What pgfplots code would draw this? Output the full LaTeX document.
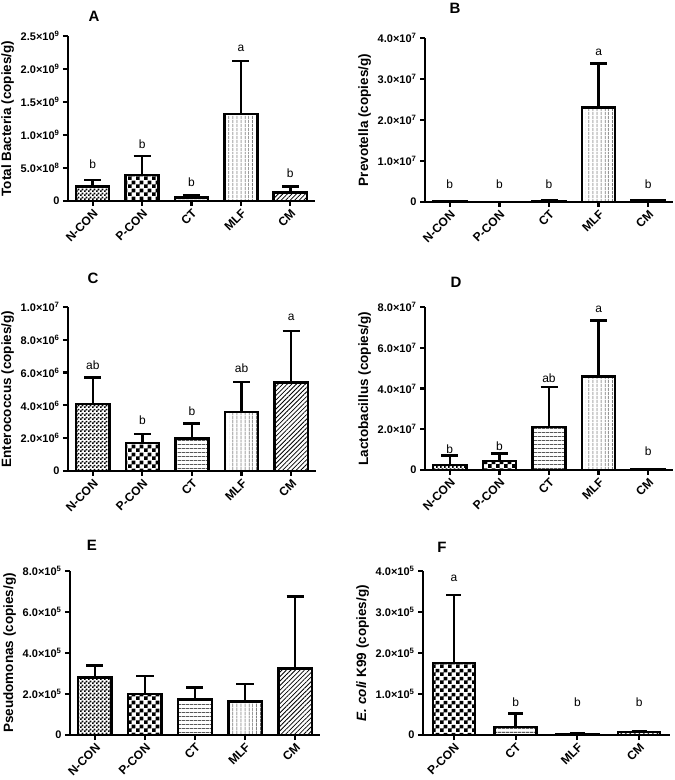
\documentclass[border=0pt]{standalone}
\usepackage{fontspec}
\setmainfont{Liberation Sans}
\usepackage{pgfplots}
\pgfplotsset{compat=1.18}
\usetikzlibrary{patterns,patterns.meta}

\pgfdeclarepatternformonly{bigcheck}{\pgfqpoint{0pt}{0pt}}{\pgfqpoint{8pt}{8pt}}{\pgfqpoint{8pt}{8pt}}{%
 \pgfpathrectangle{\pgfqpoint{0pt}{0pt}}{\pgfqpoint{4pt}{4pt}}%
 \pgfpathrectangle{\pgfqpoint{4pt}{4pt}}{\pgfqpoint{4pt}{4pt}}%
 \pgfusepath{fill}}
\pgfdeclarepatternformonly{smallcheck}{\pgfqpoint{0pt}{0pt}}{\pgfqpoint{4pt}{4pt}}{\pgfqpoint{4pt}{4pt}}{%
 \pgfpathrectangle{\pgfqpoint{0pt}{0pt}}{\pgfqpoint{2pt}{2pt}}%
 \pgfpathrectangle{\pgfqpoint{2pt}{2pt}}{\pgfqpoint{2pt}{2pt}}%
 \pgfusepath{fill}}

\newcommand{\ex}[2]{\mbox{#1×10\textsuperscript{#2}}}
\newcommand{\tickfont}{\bfseries\fontsize{11}{13}\selectfont}
\newcommand{\letfont}{\fontsize{12}{14}\selectfont}
\newcommand{\titfont}{\bfseries\fontsize{15}{18}\selectfont}

\pgfplotsset{
 panel/.style={
  scale only axis, clip=false,
  axis lines=left, axis line style={-, line width=2.5pt},
  xmin=-0.5, xmax=4.5, ymin=0,
  xtick={0,...,4}, xticklabels={N-CON,P-CON,CT,MLF,CM},
  tick align=outside, major tick length=5pt,
  tick style={line width=2.2pt, black},
  x tick label style={rotate=45, anchor=north east, font=\bfseries\fontsize{12}{14}\selectfont, inner sep=1.5pt},
  y tick label style={font=\tickfont},
  ylabel style={font=\bfseries\fontsize{13.5}{16}\selectfont},
  scaled y ticks=false,
  enlargelimits=false,
 },
 bars/.style={ybar, bar width=0.67, bar shift=0pt, draw=black, line width=2.5pt,
  error bars/.cd, y dir=plus, y explicit,
  error bar style={line width=2.5pt, black},
  error mark options={rotate=90, line width=2.5pt, mark size=8.5pt, black}},
 fbars/.style={ybar, bar width=0.68, bar shift=0pt, draw=black, line width=2.5pt,
  error bars/.cd, y dir=plus, y explicit,
  error bar style={line width=2.5pt, black},
  error mark options={rotate=90, line width=2.5pt, mark size=7.5pt, black}},
}
\tikzset{
 pNCON/.style={pattern=smallcheck},
 pPCON/.style={pattern=bigcheck},
 pCT/.style={pattern={Lines[angle=0, distance=4pt, line width=0.8pt]}},
 pMLF/.style={pattern={Lines[angle=90, distance=4pt, line width=0.8pt]}},
 pCM/.style={pattern={Lines[angle=45, distance=3.2pt, line width=0.8pt]}},
}

\begin{document}
\begin{tikzpicture}
\useasboundingbox (0,0) rectangle (675pt,780pt);

% ---------- A ----------
\begin{axis}[panel, at={(68pt,579pt)}, anchor=south west, width=247pt, height=165pt,
  ymax=2.5e9, ytick={0,5e8,1e9,1.5e9,2e9,2.5e9},
  yticklabels={0,\ex{5.0}{8},\ex{1.0}{9},\ex{1.5}{9},\ex{2.0}{9},\ex{2.5}{9}},
  ylabel={Total Bacteria (copies/g)}]
\addplot[pNCON, bars] coordinates {(0,2.2e8) +- (0,1.0e8)};
\addplot[pPCON, bars] coordinates {(1,3.94e8) +- (0,2.86e8)};
\addplot[pCT, bars] coordinates {(2,0.56e8) +- (0,0.24e8)};
\addplot[pMLF, bars] coordinates {(3,1.32e9) +- (0,0.80e9)};
\addplot[pCM, bars] coordinates {(4,1.26e8) +- (0,0.91e8)};
\node[font=\letfont] at (axis cs:0,0.56e9) {b};
\node[font=\letfont] at (axis cs:1,0.864e9) {b};
\node[font=\letfont] at (axis cs:2,0.292e9) {b};
\node[font=\letfont] at (axis cs:3,2.31e9) {a};
\node[font=\letfont] at (axis cs:4,0.42e9) {b};
\end{axis}

% ---------- B ----------
\begin{axis}[panel, at={(425pt,578pt)}, anchor=south west, width=248pt, height=164pt,
  ymax=4e7, ytick={0,1e7,2e7,3e7,4e7},
  yticklabels={0,\ex{1.0}{7},\ex{2.0}{7},\ex{3.0}{7},\ex{4.0}{7}},
  ylabel={Prevotella (copies/g)}]
\addplot[pNCON, bars] coordinates {(0,1.5e5) +- (0,1.0e5)};
\addplot[pPCON, bars] coordinates {(1,0.2e5) +- (0,0.1e5)};
\addplot[pCT, bars] coordinates {(2,2.5e5) +- (0,1.0e5)};
\addplot[pMLF, bars] coordinates {(3,2.31e7) +- (0,1.07e7)};
\addplot[pCM, bars] coordinates {(4,3.5e5) +- (0,1.5e5)};
\node[font=\letfont] at (axis cs:0,0.44e7) {b};
\node[font=\letfont] at (axis cs:1,0.44e7) {b};
\node[font=\letfont] at (axis cs:2,0.44e7) {b};
\node[font=\letfont] at (axis cs:3,3.64e7) {a};
\node[font=\letfont] at (axis cs:4,0.44e7) {b};
\end{axis}

% ---------- C ----------
\begin{axis}[panel, at={(68pt,309pt)}, anchor=south west, width=248pt, height=164pt,
  ymax=1e7, ytick={0,2e6,4e6,6e6,8e6,1e7},
  yticklabels={0,\ex{2.0}{6},\ex{4.0}{6},\ex{6.0}{6},\ex{8.0}{6},\ex{1.0}{7}},
  ylabel={Enterococcus (copies/g)}]
\addplot[pNCON, bars] coordinates {(0,4.07e6) +- (0,1.63e6)};
\addplot[pPCON, bars] coordinates {(1,1.71e6) +- (0,0.55e6)};
\addplot[pCT, bars] coordinates {(2,1.98e6) +- (0,0.91e6)};
\addplot[pMLF, bars] coordinates {(3,3.60e6) +- (0,1.83e6)};
\addplot[pCM, bars] coordinates {(4,5.39e6) +- (0,3.15e6)};
\node[font=\letfont] at (axis cs:0,6.45e6) {ab};
\node[font=\letfont] at (axis cs:1,3.09e6) {b};
\node[font=\letfont] at (axis cs:2,3.64e6) {b};
\node[font=\letfont] at (axis cs:3,6.24e6) {ab};
\node[font=\letfont] at (axis cs:4,9.39e6) {a};
\end{axis}

% ---------- D ----------
\begin{axis}[panel, at={(425pt,310pt)}, anchor=south west, width=248pt, height=163pt,
  ymax=8e7, ytick={0,2e7,4e7,6e7,8e7},
  yticklabels={0,\ex{2.0}{7},\ex{4.0}{7},\ex{6.0}{7},\ex{8.0}{7}},
  ylabel={Lactobacillus (copies/g)}]
\addplot[pNCON, bars] coordinates {(0,2.5e6) +- (0,4.5e6)};
\addplot[pPCON, bars] coordinates {(1,4.4e6) +- (0,3.8e6)};
\addplot[pCT, bars] coordinates {(2,2.12e7) +- (0,1.96e7)};
\addplot[pMLF, bars] coordinates {(3,4.60e7) +- (0,2.74e7)};
\addplot[pCM, bars] coordinates {(4,3e5) +- (0,1e5)};
\node[font=\letfont] at (axis cs:0,1.03e7) {b};
\node[font=\letfont] at (axis cs:1,1.18e7) {b};
\node[font=\letfont] at (axis cs:2,4.52e7) {ab};
\node[font=\letfont] at (axis cs:3,7.88e7) {a};
\node[font=\letfont] at (axis cs:4,0.9e7) {b};
\end{axis}

% ---------- E ----------
\begin{axis}[panel, at={(70pt,45pt)}, anchor=south west, width=250pt, height=164pt,
  ymax=8e5, ytick={0,2e5,4e5,6e5,8e5},
  yticklabels={0,\ex{2.0}{5},\ex{4.0}{5},\ex{6.0}{5},\ex{8.0}{5}},
  ylabel={Pseudomonas (copies/g)}]
\addplot[pNCON, bars] coordinates {(0,2.81e5) +- (0,0.59e5)};
\addplot[pPCON, bars] coordinates {(1,2.01e5) +- (0,0.87e5)};
\addplot[pCT, bars] coordinates {(2,1.74e5) +- (0,0.57e5)};
\addplot[pMLF, bars] coordinates {(3,1.64e5) +- (0,0.86e5)};
\addplot[pCM, bars] coordinates {(4,3.25e5) +- (0,3.51e5)};
\end{axis}

% ---------- F ----------
\begin{axis}[panel, at={(423pt,45pt)}, anchor=south west, width=247pt, height=164pt,
  xmin=-0.5, xmax=3.5, xtick={0,...,3}, xticklabels={P-CON,CT,MLF,CM},
  ymax=4e5, ytick={0,1e5,2e5,3e5,4e5},
  yticklabels={0,\ex{1.0}{5},\ex{2.0}{5},\ex{3.0}{5},\ex{4.0}{5}},
  ylabel={\textit{E. coli} K99 (copies/g)}]
\addplot[pPCON, fbars] coordinates {(0,1.76e5) +- (0,1.65e5)};
\addplot[pCT, fbars] coordinates {(1,0.20e5) +- (0,0.33e5)};
\addplot[pMLF, fbars] coordinates {(2,0.03e5) +- (0,0.02e5)};
\addplot[pCM, fbars] coordinates {(3,0.07e5) +- (0,0.02e5)};
\node[font=\letfont] at (axis cs:0,3.82e5) {a};
\node[font=\letfont] at (axis cs:1,0.79e5) {b};
\node[font=\letfont] at (axis cs:2,0.79e5) {b};
\node[font=\letfont] at (axis cs:3,0.79e5) {b};
\end{axis}

% panel titles
\node[font=\titfont] at (94pt,764pt) {A};
\node[font=\titfont] at (455pt,772pt) {B};
\node[font=\titfont] at (93pt,502pt) {C};
\node[font=\titfont] at (456pt,498pt) {D};
\node[font=\titfont] at (92pt,235pt) {E};
\node[font=\titfont] at (442pt,233pt) {F};
\end{tikzpicture}
\end{document}
